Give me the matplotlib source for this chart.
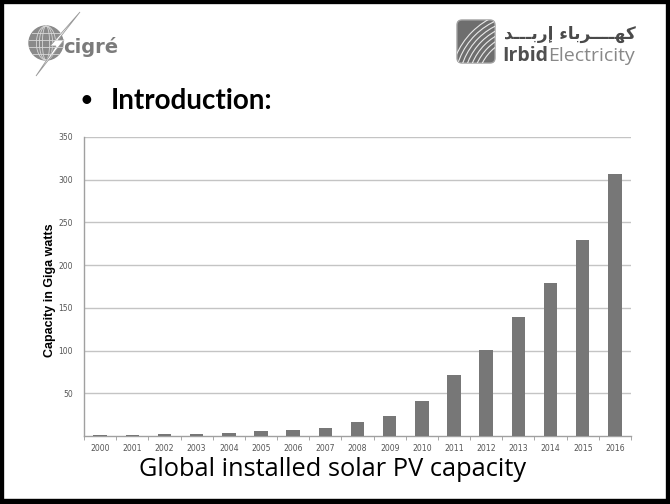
import numpy as np
import matplotlib
matplotlib.use("Agg")
from matplotlib import pyplot as plt
from matplotlib.patches import Circle, FancyBboxPatch, Rectangle, Polygon, Arc

# installed PV capacity per year (GW)
years = ["2000", "2001", "2002", "2003", "2004", "2005", "2006", "2007", "2008",
         "2009", "2010", "2011", "2012", "2013", "2014", "2015", "2016"]
capacity = [1.3, 1.6, 2.1, 2.8, 3.9, 5.4, 6.9, 9.5, 16, 23.5, 40.5, 71, 101,
            139, 179, 229, 307]
ytick_vals = [50, 100, 150, 200, 250, 300, 350]

slide_title = "Introduction:"
caption = "Global installed solar PV capacity"
ylabel = "Capacity in Giga watts"
# kahraba irbid, presentation forms in visual order
arabic_name = ("\uFEAA\u0640\u0640\u0640\uFE91\uFEAD\uFE87 "
               "\uFE80\uFE8E\uFE91\uFEAE\u0640\u0640\u0640\u0640\uFEEC\uFEDB")

W, H = 670, 504
fig = plt.figure(figsize=(W / 100, H / 100), dpi=100)
fig.patch.set_facecolor("white")

# slide layer in pixel coordinates
bg = fig.add_axes([0, 0, 1, 1])
bg.set_xlim(0, W)
bg.set_ylim(H, 0)
bg.axis("off")

# black frame round the slide
bg.add_patch(Rectangle((0, 0), W, H, fill=False, edgecolor="black", lw=6))
bg.add_patch(Rectangle((0, 499), W, 6, color="black"))

# cigre logo
globe = Circle((46, 43), 17, color="#8a8a8a")
bg.add_patch(globe)
for r in [6, 11, 16]:
    bg.add_patch(Arc((46, 43), 2 * r * 0.6, 34, color="#d8d8d8", lw=0.6))
for dy in [-10, -3, 4, 11]:
    hw = np.sqrt(max(17 ** 2 - dy ** 2, 0))
    bg.plot([46 - hw, 46 + hw], [43 + dy, 43 + dy], color="#d8d8d8", lw=0.6)
bolt = Polygon([(80, 12), (58, 40), (64, 40), (36, 76), (56, 46), (50, 46), (80, 12)],
               closed=True, facecolor="white", edgecolor="#999999", lw=0.6)
bg.add_patch(bolt)
bg.text(63, 47, "cigré", fontsize=14, fontweight="heavy", color="#7b7b7b",
        family="DejaVu Sans", va="center", ha="left")

# irbid electricity logo
box = FancyBboxPatch((457, 20), 38, 43, boxstyle="round,pad=0,rounding_size=5",
                     facecolor="#6e6e6e", edgecolor="#a0a0a0", lw=1)
bg.add_patch(box)
for k in range(7):
    a = Arc((525, 85), 96 + 9 * k, 96 + 9 * k, theta1=180, theta2=270,
            color="#e8e8e8", lw=0.8)
    bg.add_patch(a)
    a.set_clip_path(box)
bg.text(636, 34, arabic_name, fontsize=12.2, color="#4a4a4a", family="DejaVu Sans",
        ha="right", va="center", fontweight="bold")
bg.text(502, 56, "Irbid", fontsize=14, fontweight="bold", color="#505050",
        family="Open Sans", ha="left", va="center")
bg.text(548, 56, "Electricity", fontsize=14, color="#888888",
        family="Open Sans", ha="left", va="center")

# slide heading and caption
bg.text(80, 100, "•", fontsize=17, color="black", family="Lato", va="center")
bg.text(111, 101, slide_title, fontsize=20, fontweight="bold", color="black",
        family="Lato", va="center")
bg.text(333, 469, caption, fontsize=18.3, color="black", family="Open Sans",
        ha="center", va="center")

# bar chart
ax = fig.add_axes([84 / W, 1 - 436 / H, (631 - 84) / W, (436 - 137) / H])
x = np.arange(len(years))
ax.bar(x, capacity, width=0.42, color="#777777", zorder=3)
ax.set_xlim(-0.5, len(years) - 0.5)
ax.set_ylim(0, 350)
ax.set_yticks(ytick_vals)
ax.set_yticklabels([str(v) for v in ytick_vals], fontsize=5.5, color="#555555",
                   family="DejaVu Sans")
ax.set_xticks(x)
ax.set_xticklabels(years, fontsize=5.6, color="#555555", family="DejaVu Sans")
ax.set_xticks(np.arange(-0.5, len(years)), minor=True)
ax.tick_params(axis="x", which="major", length=0, pad=6)
ax.tick_params(axis="x", which="minor", length=3, color="#999999", direction="out")
ax.tick_params(axis="y", length=0, pad=8)
ax.grid(axis="y", color="#c4c4c4", lw=1, zorder=0)
for side in ["top", "right"]:
    ax.spines[side].set_visible(False)
for side in ["left", "bottom"]:
    ax.spines[side].set_color("#a0a0a0")
    ax.spines[side].set_linewidth(1)
ax.set_ylabel(ylabel, fontsize=9, fontweight="bold", family="Liberation Sans")
ax.yaxis.set_label_coords(-28 / (631 - 84), (436 - 290) / (436 - 137))

fig.savefig("out.png", dpi=100)
